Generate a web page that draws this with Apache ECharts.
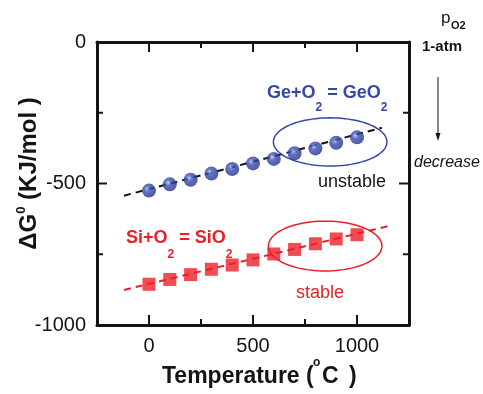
<!DOCTYPE html>
<html>
<head>
<meta charset="utf-8">
<script src="https://cdn.jsdelivr.net/npm/echarts@6/dist/echarts.min.js"></script>
<style>
html,body{margin:0;padding:0;background:#fff;}
#chart{width:483px;height:394px;}
</style>
</head>
<body>
<div id="chart"></div>
<script>
// ---- data ----
const geTemps = [0, 100, 200, 300, 400, 500, 600, 700, 800, 900, 1000];
const geDG = [-525, -503, -487, -465, -449, -429, -413, -393, -376, -356, -337];
const siTemps = [0, 100, 200, 300, 400, 500, 600, 700, 800, 900, 1000];
const siDG = [-856, -839, -822, -803, -788, -770, -749, -733, -713, -696, -681];
const geFitT = [-120, 1120];
const geFitDG = [-543, -303];
const siFitT = [-120, 1148];
const siFitDG = [-876, -651];
// ellipse annotations: [centre T, centre dG, half-width T, half-height dG]
const geEllipse = [871, -353, 273, 85];
const siEllipse = [847, -721, 273, 88];
const xMajorTicks = [0, 500, 1000];
const xMinorTicks = [250, 750];
const yMajorTicks = [-1000, -500, 0];
const yMinorTicks = [-750, -250];
const X_MIN = -250, X_MAX = 1250, Y_MIN = -1000, Y_MAX = 0;

const FONT = '"Liberation Sans", Arial, Helvetica, sans-serif';
const BLUE = '#3548a8';
const RED = '#ec1f28';
const INK = '#141414';
const zip = (a, b) => a.map((v, i) => [v, b[i]]);

const mctx = document.createElement('canvas').getContext('2d');
function fontStr(size, bold, italic) {
  return (italic ? 'italic ' : '') + (bold ? 'bold ' : '') + size + 'px ' + FONT;
}
function tw(text, size, bold, italic) {
  mctx.font = fontStr(size, bold, italic);
  return mctx.measureText(text).width;
}

const chart = echarts.init(document.getElementById('chart'), null, {renderer: 'canvas'});

function xAx(pos, labels) {
  return {
    type: 'value', position: pos, min: X_MIN, max: X_MAX, interval: 250,
    axisLine: {show: true, onZero: false, lineStyle: {color: INK, width: 3}},
    axisTick: {show: false},
    axisLabel: labels ? {show: true, customValues: xMajorTicks, formatter: v => String(v), fontSize: 20, color: INK, fontFamily: FONT, margin: 11} : {show: false},
    splitLine: {show: false}
  };
}
function yAx(pos, labels) {
  return {
    type: 'value', position: pos, min: Y_MIN, max: Y_MAX, interval: 250,
    axisLine: {show: true, onZero: false, lineStyle: {color: INK, width: 3}},
    axisTick: {show: false},
    axisLabel: labels ? {show: true, customValues: yMajorTicks, formatter: v => String(v), fontSize: 20, color: INK, fontFamily: FONT, margin: 11} : {show: false},
    splitLine: {show: false}
  };
}

function ellipseSeries(vals, color) {
  return {
    type: 'custom', xAxisIndex: 0, yAxisIndex: 0, z: 3, silent: true,
    data: [vals],
    renderItem: function (params, api) {
      const c = api.coord([api.value(0), api.value(1)]);
      const s = api.size([api.value(2), api.value(3)]);
      const pts = [];
      for (let k = 0; k < 96; k++) {
        const t = k / 96 * Math.PI * 2;
        pts.push([c[0] + s[0] * Math.cos(t), c[1] + s[1] * Math.sin(t)]);
      }
      return {type: 'polygon', shape: {points: pts}, style: {fill: 'none', stroke: color, lineWidth: 1.5}};
    }
  };
}

function txt(text, x, y, size, color, opts) {
  opts = opts || {};
  return {
    type: 'text', x: x, y: y, z: 10,
    style: {
      text: text, fill: color, textAlign: opts.align || 'left', textVerticalAlign: 'middle',
      font: fontStr(size, opts.bold, opts.italic)
    }
  };
}
function seq(pieces, x0, y0, color) {
  const out = [];
  let x = x0;
  pieces.forEach(p => {
    out.push(txt(p[0], x, y0 + p[2], p[1], color, {bold: p[3]}));
    x += tw(p[0], p[1], p[3]);
  });
  return out;
}

const yTitlePieces = [['\u0394G', 24, 0, true], ['0', 13, -8, true], [' (KJ/mol )', 24, 0, true]];
const yTitleLen = yTitlePieces.reduce((s, p) => s + tw(p[0], p[1], p[3]), 0);

const graphics = [].concat(
  seq([['Ge+O', 18, 0, true], ['2', 12, 14, true], [' = GeO', 18, 0, true], ['2', 12, 14, true]], 267, 93.5, BLUE),
  [txt('unstable', 318, 182.5, 18, INK)],
  seq([['Si+O', 18, 0, true], ['2', 12, 16, true], [' = SiO', 18, 0, true], ['2', 12, 16, true]], 126, 238.5, RED),
  [txt('stable', 296, 293, 18, RED)],
  [
    txt('p', 441, 18, 17, INK),
    txt('O2', 451, 26, 11, INK, {bold: true}),
    txt('1-atm', 442, 47, 15, INK, {bold: true, align: 'center'}),
    {type: 'line', z: 10, shape: {x1: 438, y1: 77, x2: 438, y2: 135}, style: {stroke: INK, lineWidth: 1}},
    {type: 'polygon', z: 10, shape: {points: [[435.5, 133], [440.5, 133], [438, 141]]}, style: {fill: INK}},
    txt('decrease', 414, 163, 16, INK, {italic: true})
  ],
  [{
    type: 'group', x: 29, y: 173.5, rotation: Math.PI / 2,
    children: seq(yTitlePieces, -yTitleLen / 2, 0, INK)
  }],
  [{
    type: 'group', x: 0, y: 376, scaleX: 1, scaleY: 1.08,
    children: [
      txt('Temperature', 162, 0, 23, INK, {bold: true}),
      txt('(', 306, 0, 23, INK, {bold: true}),
      txt('o', 313, -12.5, 12, INK, {bold: true}),
      txt('C', 322, 0, 23, INK, {bold: true}),
      txt(')', 349, 0, 23, INK, {bold: true})
    ]
  }]
);

const option = {
  backgroundColor: '#fff',
  animation: false,
  grid: {left: 97, right: 74, top: 42, bottom: 69, containLabel: false},
  xAxis: [xAx('bottom', true), xAx('top', false)],
  yAxis: [yAx('left', true), yAx('right', false)],
  series: [
    {
      type: 'line', data: zip(geFitT, geFitDG), showSymbol: false, z: 2,
      lineStyle: {color: INK, width: 2, type: [7, 5]}
    },
    {
      type: 'line', data: zip(siFitT, siFitDG), showSymbol: false, z: 2,
      lineStyle: {color: RED, width: 2, type: [7, 5]}
    },
    ellipseSeries(geEllipse, BLUE),
    ellipseSeries(siEllipse, RED),
    {
      type: 'scatter', data: zip(geTemps, geDG), symbol: 'circle', symbolSize: 14, z: 5,
      itemStyle: {
        color: {
          type: 'radial', x: 0.38, y: 0.38, r: 0.65,
          colorStops: [
            {offset: 0, color: '#f2f4ff'},
            {offset: 0.12, color: '#8190d8'},
            {offset: 0.35, color: '#3a4db0'},
            {offset: 1, color: '#22318a'}
          ]
        }
      }
    },
    {
      type: 'scatter', data: zip(siTemps, siDG), symbol: 'rect', symbolSize: 13, z: 5,
      itemStyle: {color: RED}
    }
  ],
  graphic: graphics
};
chart.setOption(option);

// inward tick marks on all four sides, positioned through the axis scales
const toPx = p => chart.convertToPixel({gridIndex: 0}, p);
const tickEls = [];
function tickLine(x1, y1, x2, y2) {
  tickEls.push({type: 'line', z: 8, shape: {x1: x1, y1: y1, x2: x2, y2: y2}, style: {stroke: INK, lineWidth: 2}});
}
function xTick(v, len) {
  const b = toPx([v, Y_MIN]), t = toPx([v, Y_MAX]);
  tickLine(b[0], b[1], b[0], b[1] - len);
  tickLine(t[0], t[1], t[0], t[1] + len);
}
function yTick(v, len) {
  const l = toPx([X_MIN, v]), r = toPx([X_MAX, v]);
  tickLine(l[0], l[1], l[0] + len, l[1]);
  tickLine(r[0], r[1], r[0] - len, r[1]);
}
xMajorTicks.forEach(v => xTick(v, 10));
xMinorTicks.forEach(v => xTick(v, 6));
yMajorTicks.filter(v => v > Y_MIN && v < Y_MAX).forEach(v => yTick(v, 10));
yMinorTicks.forEach(v => yTick(v, 6));
chart.setOption({graphic: graphics.concat(tickEls)});
</script>
</body>
</html>
